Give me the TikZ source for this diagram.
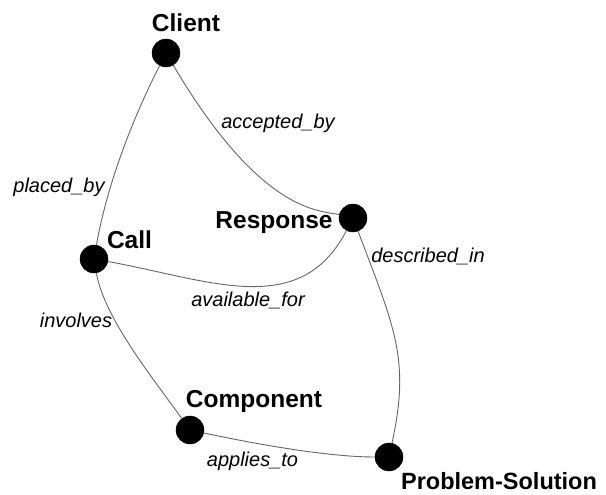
\documentclass[tikz,border=0pt]{standalone}
\usepackage{fontspec}
\setmainfont{Liberation Sans}
\begin{document}
\begin{tikzpicture}[
    x=1pt, y=-1pt,
  vertex/.style={circle, fill=black, draw=black, minimum size=28pt, inner sep=0pt},
  conceptlabel/.style={font=\fontsize{24.5}{28}\selectfont\bfseries, inner sep=0pt},
  relationlabel/.style={font=\fontsize{20}{24}\selectfont\itshape, inner sep=0pt},
  relation/.style={draw=black!60, line width=0.9pt}
]
\useasboundingbox (0,0) rectangle (606,495);

% Concept nodes
\node[vertex] (client) at (166, 53) {};
\node[vertex] (response) at (353, 218) {};
\node[vertex] (call) at (94, 259) {};
\node[vertex] (component) at (190, 430) {};
\node[vertex] (problem) at (389, 457) {};

% Concept names
\node[conceptlabel] (lclient) at (186, 22.5) {Client};
\node[conceptlabel] (lresponse) at (274, 223) {Response};
\node[conceptlabel] (lcall) at (129.5, 240) {Call};
\node[conceptlabel] (lcomponent) at (254, 401) {Component};
\node[conceptlabel, font=\fontsize{23.5}{28}\selectfont\bfseries] (lproblem) at (499, 481.5) {Problem-Solution};

% Relations
\draw[relation] (client) .. controls (132, 120) and (107, 185) .. (call);
\draw[relation] (client) .. controls (262, 215) and (320, 210) .. (response);
\draw[relation] (call) .. controls (210, 280) and (300, 320) .. (response);
\draw[relation] (response) .. controls (395.6, 330) and (410, 360) .. (problem);
\draw[relation] (call) .. controls (104, 318) and (155, 381) .. (component);
\draw[relation] (component) .. controls (260, 445) and (330, 457) .. (problem);

% Relation names
\node[relationlabel] (lplaced) at (59, 187.5) {placed\_by};
\node[relationlabel] (laccepted) at (278, 123.5) {accepted\_by};
\node[relationlabel] (lavailable) at (248, 300.5) {available\_for};
\node[relationlabel] (ldescribed) at (428, 256.5) {described\_in};
\node[relationlabel] (linvolves) at (76, 320.5) {involves};
\node[relationlabel] (lapplies) at (252.5, 461.5) {applies\_to};

\end{tikzpicture}
\end{document}
